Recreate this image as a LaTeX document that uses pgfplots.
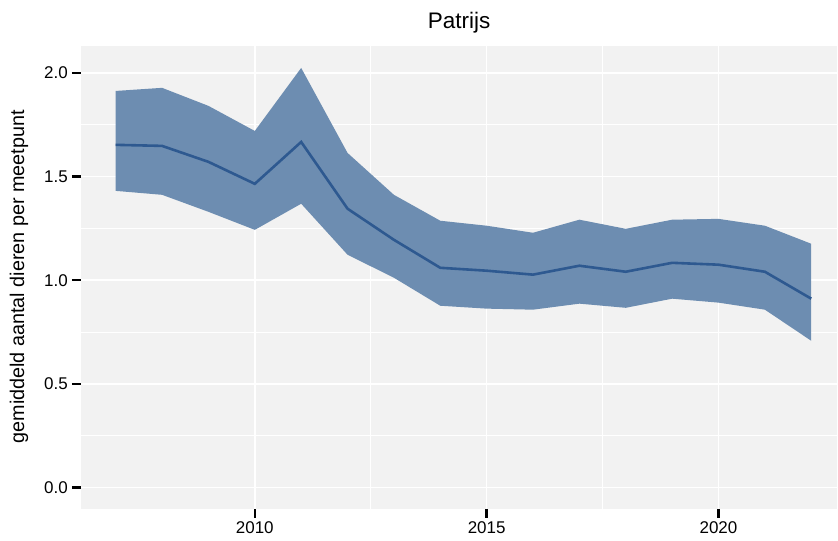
\documentclass[border=0pt]{standalone}
\usepackage{pgfplots}
\pgfplotsset{compat=1.18}
\usepgfplotslibrary{fillbetween}
\usepackage{fontspec}
\setmainfont{Liberation Sans}
\definecolor{panelbg}{RGB}{242,242,242}
\definecolor{ribbon}{RGB}{109,141,177}
\definecolor{meanline}{RGB}{46,89,144}

\pgfplotstableread{
jaar  gem    onder  boven
2007  1.653  1.431  1.913
2008  1.648  1.412  1.928
2009  1.571  1.330  1.841
2010  1.465  1.243  1.720
2011  1.667  1.369  2.024
2012  1.345  1.123  1.614
2013  1.195  1.012  1.412
2014  1.060  0.877  1.287
2015  1.046  0.863  1.263
2016  1.027  0.858  1.229
2017  1.070  0.887  1.292
2018  1.041  0.867  1.248
2019  1.084  0.911  1.292
2020  1.075  0.892  1.296
2021  1.041  0.858  1.263
2022  0.911  0.708  1.176
}\patrijs

\begin{document}
\begin{tikzpicture}
\begin{axis}[
    at={(81pt,32pt)}, anchor=south west,
    width=757pt, height=463pt, scale only axis,
    xmin=2006.25, xmax=2022.56,
    ymin=-0.101, ymax=2.130,
    axis line style={draw=none},
    axis background/.style={fill=panelbg},
    xtick={2010,2015,2020},
    ytick={0,0.5,1,1.5,2},
    minor x tick num=1,
    minor y tick num=1,
    grid=both,
    major grid style={white, line width=1.6pt},
    minor grid style={white, line width=0.8pt},
    tick align=outside,
    tick pos=left,
    major tick length=9pt,
    minor tick length=0pt,
    major tick style={black, line width=2.4pt},
    ticklabel style={font=\fontsize{17}{20}\selectfont, text=black},
    xticklabel style={/pgf/number format/1000 sep={}, inner sep=4pt},
    yticklabel style={/pgf/number format/.cd, fixed, fixed zerofill, precision=1, /tikz/.cd, inner sep=4pt},
    /pgf/number format/assume math mode=true,
  ]
  \addplot[draw=none, name path=boven] table[x=jaar, y=boven] {\patrijs};
  \addplot[draw=none, name path=onder] table[x=jaar, y=onder] {\patrijs};
  \addplot[fill=ribbon, draw=none] fill between[of=boven and onder];
  \addplot[meanline, line width=2.6pt, mark=none] table[x=jaar, y=gem] {\patrijs};
\end{axis}
\node[font=\fontsize{22.5}{27}\selectfont] at (459.5pt,518pt) {Patrijs};
\node[font=\fontsize{19.8}{23}\selectfont, rotate=90] at (19pt,264pt) {gemiddeld aantal dieren per meetpunt};
\path (0,0) rectangle (838pt,541pt);
\end{tikzpicture}
\end{document}
